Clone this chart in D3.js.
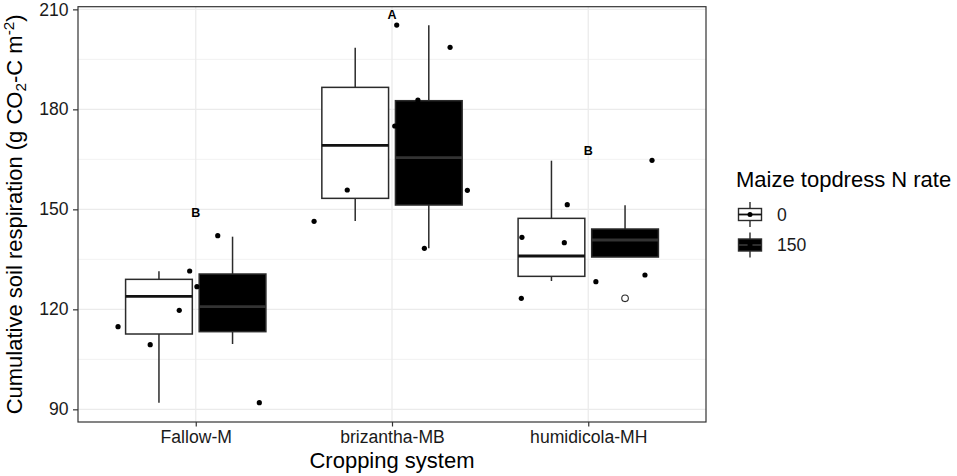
<!DOCTYPE html>
<html>
<head>
<meta charset="utf-8">
<script src="https://cdn.jsdelivr.net/npm/d3@7"></script>
<style>
  html, body { margin: 0; padding: 0; background: #fff; }
  svg { display: block; font-family: "Liberation Sans", Arial, Helvetica, sans-serif; }
</style>
</head>
<body>
<svg id="chart" width="957" height="476"></svg>
<script>
// ---------------- data ----------------
const categories = ["Fallow-M", "brizantha-MB", "humidicola-MH"];
const nRates = ["0", "150"];

// box statistics per category, N rate 0
const box0Low    = [92.0, 146.5, 128.5];
const box0Q1     = [112.6, 153.3, 129.9];
const box0Median = [123.9, 169.2, 136.0];
const box0Q3     = [129.0, 186.6, 147.3];
const box0High   = [131.4, 198.5, 164.6];

// box statistics per category, N rate 150
const box150Low    = [109.6, 138.3, 135.7];
const box150Q1     = [113.3, 151.3, 135.7];
const box150Median = [120.8, 165.5, 140.8];
const box150Q3     = [130.6, 182.6, 144.1];
const box150High   = [141.8, 205.2, 151.2];

// box-plot outliers (open circles)
const outlierCat   = ["humidicola-MH"];
const outlierRate  = ["150"];
const outlierValue = [123.3];

// jittered observations (filled points)
const pointCat = [
  "Fallow-M","Fallow-M","Fallow-M","Fallow-M","Fallow-M","Fallow-M","Fallow-M",
  "brizantha-MB","brizantha-MB","brizantha-MB","brizantha-MB","brizantha-MB","brizantha-MB","brizantha-MB","brizantha-MB",
  "humidicola-MH","humidicola-MH","humidicola-MH","humidicola-MH","humidicola-MH","humidicola-MH","humidicola-MH"
];
const pointValue = [
  114.8, 109.4, 119.7, 131.5, 126.8, 142.1, 92.0,
  146.4, 155.8, 205.3, 175.0, 182.8, 198.6, 155.7, 138.3,
  123.3, 141.6, 140.0, 151.4, 128.3, 130.3, 164.7
];
const pointJitter = [
  -0.396, -0.232, -0.084, -0.031, 0.006, 0.112, 0.324,
  -0.397, -0.228, 0.024, 0.014, 0.132, 0.296, 0.384, 0.165,
  -0.341, -0.338, -0.122, -0.107, 0.039, 0.289, 0.325
];

// letter groups
const letterCat   = ["Fallow-M", "brizantha-MB", "humidicola-MH"];
const letterText  = ["B", "A", "B"];
const letterValue = [149.0, 208.3, 167.6];

const yTicks = [90, 120, 150, 180, 210];
const yMinorTicks = [105, 135, 165, 195];

// ---------------- layout ----------------
const svg = d3.select("#chart");
const panel = { left: 78, right: 706, top: 6.7, bottom: 422 };
const lineCol = "#2b2b2b";
const gridCol = "#EBEBEB";
const textCol = "#1a1a1a";

const x = d3.scaleLinear().domain([0.4, 3.6]).range([panel.left, panel.right]);
const catIndex = c => categories.indexOf(c) + 1;
const y = d3.scaleLinear().domain([86.2, 210.8]).range([panel.bottom, panel.top]);

const dodge = 0.1875;   // category units
const boxW = 0.34;      // category units

// panel background
svg.append("rect")
  .attr("x", panel.left).attr("y", panel.top)
  .attr("width", panel.right - panel.left).attr("height", panel.bottom - panel.top)
  .attr("fill", "#fff");

// grid
const grid = svg.append("g");
grid.selectAll(".ymin").data(yMinorTicks).enter().append("line")
  .attr("x1", panel.left).attr("x2", panel.right)
  .attr("y1", d => y(d)).attr("y2", d => y(d))
  .attr("stroke", gridCol).attr("stroke-width", 0.7);
grid.selectAll(".ymaj").data(yTicks).enter().append("line")
  .attr("x1", panel.left).attr("x2", panel.right)
  .attr("y1", d => y(d)).attr("y2", d => y(d))
  .attr("stroke", gridCol).attr("stroke-width", 1.3);
grid.selectAll(".xmaj").data(categories).enter().append("line")
  .attr("y1", panel.top).attr("y2", panel.bottom)
  .attr("x1", d => x(catIndex(d))).attr("x2", d => x(catIndex(d)))
  .attr("stroke", gridCol).attr("stroke-width", 1.3);

// boxes
const boxes = [];
categories.forEach((c, i) => {
  boxes.push({ cat: c, rate: "0", low: box0Low[i], q1: box0Q1[i], med: box0Median[i], q3: box0Q3[i], high: box0High[i] });
  boxes.push({ cat: c, rate: "150", low: box150Low[i], q1: box150Q1[i], med: box150Median[i], q3: box150Q3[i], high: box150High[i] });
});
const fillOf = r => r === "0" ? "#ffffff" : "#000000";
const offOf = r => r === "0" ? -dodge : dodge;

const gBox = svg.append("g");
boxes.forEach(b => {
  const cx = catIndex(b.cat) + offOf(b.rate);
  const g = gBox.append("g");
  // whiskers
  g.append("line").attr("x1", x(cx)).attr("x2", x(cx))
    .attr("y1", y(b.high)).attr("y2", y(b.q3))
    .attr("stroke", lineCol).attr("stroke-width", 1.5);
  g.append("line").attr("x1", x(cx)).attr("x2", x(cx))
    .attr("y1", y(b.q1)).attr("y2", y(b.low))
    .attr("stroke", lineCol).attr("stroke-width", 1.5);
  // box
  g.append("rect")
    .attr("x", x(cx - boxW / 2)).attr("width", x(cx + boxW / 2) - x(cx - boxW / 2))
    .attr("y", y(b.q3)).attr("height", y(b.q1) - y(b.q3))
    .attr("fill", fillOf(b.rate)).attr("stroke", lineCol).attr("stroke-width", 1.5);
  // median
  g.append("line")
    .attr("x1", x(cx - boxW / 2)).attr("x2", x(cx + boxW / 2))
    .attr("y1", y(b.med)).attr("y2", y(b.med))
    .attr("stroke", b.rate === "0" ? "#111" : "#333").attr("stroke-width", 2.8);
});

// outliers
outlierValue.forEach((v, i) => {
  const cx = catIndex(outlierCat[i]) + offOf(outlierRate[i]);
  svg.append("circle").attr("cx", x(cx)).attr("cy", y(v)).attr("r", 3.3)
    .attr("fill", "none").attr("stroke", lineCol).attr("stroke-width", 1.1);
});

// jittered points
svg.append("g").selectAll("circle").data(pointValue).enter().append("circle")
  .attr("cx", (d, i) => x(catIndex(pointCat[i]) + pointJitter[i]))
  .attr("cy", d => y(d))
  .attr("r", 2.6)
  .attr("fill", "#000");

// letters
svg.append("g").selectAll("text").data(letterText).enter().append("text")
  .attr("x", (d, i) => x(catIndex(letterCat[i])))
  .attr("y", (d, i) => y(letterValue[i]))
  .attr("text-anchor", "middle").attr("dominant-baseline", "central")
  .attr("font-size", 12.5).attr("font-weight", "bold").attr("fill", "#000")
  .text(d => d);

// panel border
svg.append("rect")
  .attr("x", panel.left).attr("y", panel.top)
  .attr("width", panel.right - panel.left).attr("height", panel.bottom - panel.top)
  .attr("fill", "none").attr("stroke", "#333").attr("stroke-width", 1.2);

// y axis
const yAxis = d3.axisLeft(y).tickValues(yTicks).tickSize(5).tickPadding(4.5);
const gy = svg.append("g").attr("transform", `translate(${panel.left},0)`).call(yAxis);
gy.select(".domain").remove();
gy.selectAll(".tick line").attr("stroke", "#333").attr("stroke-width", 1.2);
gy.selectAll(".tick text").attr("font-size", 17.6).attr("fill", textCol)
  .attr("font-family", "Liberation Sans, Arial, sans-serif");

// x axis
const xAxis = d3.axisBottom(x).tickValues(categories.map((c, i) => i + 1))
  .tickFormat(d => categories[d - 1]).tickSize(4.5).tickPadding(4.5);
const gx = svg.append("g").attr("transform", `translate(0,${panel.bottom})`).call(xAxis);
gx.select(".domain").remove();
gx.selectAll(".tick line").attr("stroke", "#333").attr("stroke-width", 1.2);
gx.selectAll(".tick text").attr("font-size", 17.6).attr("fill", textCol)
  .attr("font-family", "Liberation Sans, Arial, sans-serif");

// axis titles
svg.append("text")
  .attr("x", (panel.left + panel.right) / 2).attr("y", 468.3)
  .attr("text-anchor", "middle").attr("font-size", 22).attr("fill", "#000")
  .text("Cropping system");

const yt = svg.append("text")
  .attr("transform", `translate(22,${(panel.top + panel.bottom) / 2}) rotate(-90)`)
  .attr("text-anchor", "middle").attr("font-size", 22).attr("fill", "#000");
yt.append("tspan").text("Cumulative soil respiration (g CO");
yt.append("tspan").attr("font-size", 15.4).attr("dy", 4).text("2");
yt.append("tspan").attr("dy", -4).text("-C m");
yt.append("tspan").attr("font-size", 15.4).attr("dy", -8).text("-2");
yt.append("tspan").attr("dy", 8).text(")");

// legend
const leg = svg.append("g");
leg.append("text").attr("x", 736).attr("y", 186.7)
  .attr("font-size", 22).attr("fill", "#000").text("Maize topdress N rate");
const keyY = d3.scalePoint().domain(nRates).range([214.5, 245]);
nRates.forEach(r => {
  const cy = keyY(r);
  const g = leg.append("g");
  g.append("line").attr("x1", 750).attr("x2", 750).attr("y1", cy - 12.5).attr("y2", cy + 12.5)
    .attr("stroke", lineCol).attr("stroke-width", 1.4);
  g.append("rect").attr("x", 738.5).attr("y", cy - 6).attr("width", 23).attr("height", 12)
    .attr("fill", fillOf(r)).attr("stroke", lineCol).attr("stroke-width", 1.4);
  g.append("line").attr("x1", 738.5).attr("x2", 761.5).attr("y1", cy).attr("y2", cy)
    .attr("stroke", r === "0" ? "#111" : "#333").attr("stroke-width", 1.8);
  g.append("circle").attr("cx", 750).attr("cy", cy).attr("r", 2.5).attr("fill", "#000");
  g.append("text").attr("x", 777).attr("y", cy).attr("dominant-baseline", "central")
    .attr("font-size", 17.6).attr("fill", textCol).text(r);
});
</script>
</body>
</html>
